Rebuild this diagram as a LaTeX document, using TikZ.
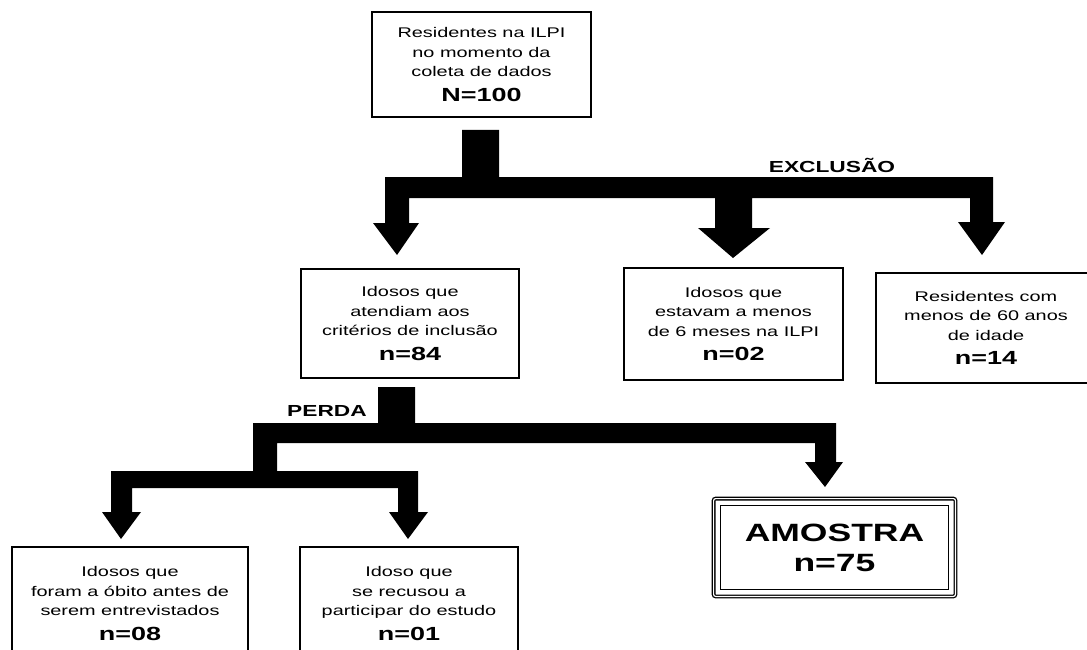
\documentclass[tikz,border=0pt]{standalone}
\usepackage{fontspec}
\setmainfont{Liberation Sans}[FakeStretch=1.42]
\newcommand\nbig{\fontsize{19}{24}\selectfont\bfseries}
\newcommand\nhuge{\fontsize{25}{30}\selectfont\bfseries}
\begin{document}
\begin{tikzpicture}[x=1pt,y=-1pt,
  box/.style={draw=black, line width=1.5pt, fill=white, align=center, inner sep=0pt,
    font=\fontsize{14}{19.5}\selectfont, text=black},
  lbl/.style={font=\fontsize{16}{18}\selectfont\bfseries, text=black},
  arr/.style={fill=black}]
\useasboundingbox (0,0) rectangle (1087,650);
\clip (0,0) rectangle (1087,650);
\fill[white] (0,0) rectangle (1087,650);

% boxes
\node[box, minimum width=219pt, minimum height=105pt] (top) at (481.5,64.5)
  {Residentes na ILPI\\ no momento da\\ coleta de dados\\[5pt] {\nbig N=100}};
\node[box, minimum width=218pt, minimum height=109pt] (b84) at (410,323.5)
  {Idosos que\\ atendiam aos\\ critérios de inclusão\\[5pt] {\nbig n=84}};
\node[box, minimum width=219pt, minimum height=112pt] (b02) at (733.5,324)
  {Idosos que\\ estavam a menos\\ de 6 meses na ILPI\\[5pt] {\nbig n=02}};
\node[box, minimum width=220pt, minimum height=110pt] (b14) at (986,328)
  {Residentes com\\ menos de 60 anos\\ de idade\\[5pt] {\nbig n=14}};
\node[box, minimum width=236pt, minimum height=113pt] (b08) at (130,603.5)
  {Idosos que\\ foram a óbito antes de\\ serem entrevistados\\[5pt] {\nbig n=08}};
\node[box, minimum width=218pt, minimum height=113pt] (b01) at (409,603.5)
  {Idoso que\\ se recusou a\\ participar do estudo\\[5pt] {\nbig n=01}};
\node[align=center, inner sep=0pt, minimum width=245pt, minimum height=101pt,
  font=\nhuge] (am) at (834.5,547.5) {AMOSTRA\\ n=75};
\draw[line width=1.3pt, double, double distance=1.2pt, rounded corners=2pt]
  ([shift={(1.8pt,-1.8pt)}]am.north west) rectangle ([shift={(-1.8pt,1.8pt)}]am.south east);
\draw[line width=1.1pt]
  ([shift={(9pt,-9pt)}]am.north west) rectangle ([shift={(-9pt,9pt)}]am.south east);

% labels
\node[lbl] (excl) at (832,165) {EXCLUSÃO};
\node[lbl] (perda) at (327,411) {PERDA};

% exclusion arrow
\fill[arr] (462,130) -- (499,130) -- (499,177) -- (993,177) -- (993,222)
  -- (1005,222) -- (982,255) -- (958,222) -- (970,222) -- (970,198)
  -- (752,198) -- (752,228) -- (770,228) -- (733,258) -- (698,228) -- (715,228)
  -- (715,198) -- (409,198) -- (409,223) -- (419,223) -- (397,255) -- (373,223)
  -- (385,223) -- (385,177) -- (462,177) -- cycle;

% loss arrow
\fill[arr] (378,387) -- (415,387) -- (415,423) -- (836,423) -- (836,462)
  -- (843,462) -- (825,487) -- (805,462) -- (815,462) -- (815,443)
  -- (277,443) -- (277,471) -- (418,471) -- (418,512) -- (428,512) -- (408,539)
  -- (389,512) -- (398,512) -- (398,488) -- (132,488) -- (132,512) -- (141,512)
  -- (121,539) -- (102,512) -- (111,512) -- (111,471) -- (253,471) -- (253,423)
  -- (378,423) -- cycle;
\end{tikzpicture}
\end{document}
